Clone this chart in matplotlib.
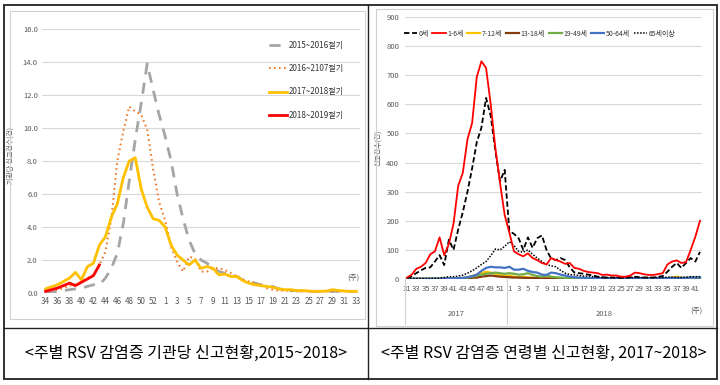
import matplotlib
matplotlib.use("Agg")
import matplotlib.pyplot as plt
from matplotlib import font_manager
from matplotlib.lines import Line2D
from matplotlib.patches import Rectangle

avail = {f.name for f in font_manager.fontManager.ttflist}
NARROW = 'Liberation Sans Narrow' if 'Liberation Sans Narrow' in avail else 'Noto Sans CJK KR'
plt.rcParams['font.family'] = ['Noto Sans CJK KR', 'DejaVu Sans']
NUMF = [NARROW, 'Noto Sans CJK KR', 'DejaVu Sans']

# ---------------- left chart data ----------------
left_weeks = list(range(34, 54)) + list(range(1, 34))
s2015 = [0.05, 0.05, 0.1, 0.15, 0.2, 0.25, 0.3, 0.4, 0.5, 0.5, 0.9, 1.5, 2.4, 4.2, 6.8, 9.3,
         11.5, 13.9, 12.3, 10.8, 9.5, 8.0, 6.0, 4.5, 3.2, 2.4, 2.0, 1.8, 1.5, 1.3, 1.2, 1.1,
         1.0, 0.8, 0.7, 0.6, 0.5, 0.45, 0.4, 0.25, 0.2, 0.15, 0.15, 0.1, 0.1, 0.1, 0.1, 0.1,
         0.1, 0.1, 0.1, 0.1, 0.1]
s2016 = [0.1, 0.15, 0.2, 0.3, 0.45, 0.5, 0.7, 0.9, 1.1, 1.7, 2.5, 4.5, 8.0, 9.8, 11.3, 11.0,
         10.8, 9.9, 7.5, 5.5, 4.4, 2.8, 1.9, 1.3, 2.2, 2.1, 1.3, 1.3, 1.5, 1.5, 1.4, 1.2, 1.0,
         0.8, 0.7, 0.6, 0.5, 0.3, 0.2, 0.15, 0.15, 0.12, 0.1, 0.1, 0.1, 0.1, 0.1, 0.1, 0.1,
         0.1, 0.1, 0.1, 0.1]
s2017 = [0.25, 0.38, 0.5, 0.7, 0.9, 1.25, 0.8, 1.6, 1.8, 2.9, 3.4, 4.6, 5.4, 7.0, 8.0, 8.2,
         6.3, 5.2, 4.5, 4.4, 4.0, 2.9, 2.3, 2.0, 1.7, 2.0, 1.5, 1.6, 1.5, 1.1, 1.15, 1.0, 1.0,
         0.75, 0.6, 0.5, 0.45, 0.4, 0.35, 0.25, 0.2, 0.2, 0.15, 0.15, 0.12, 0.1, 0.1, 0.12,
         0.2, 0.15, 0.12, 0.1, 0.1]
s2018 = [0.1, 0.2, 0.3, 0.45, 0.6, 0.45, 0.65, 0.85, 1.05, 1.7]
left_labels = ['2015~2016절기', '2016~2107절기', '2017~2018절기', '2018~2019절기']
left_yticks = [0.0, 2.0, 4.0, 6.0, 8.0, 10.0, 12.0, 14.0, 16.0]

# ---------------- right chart data ----------------
right_weeks = list(range(31, 53)) + list(range(1, 43))
age0 = [3, 10, 20, 30, 38, 40, 60, 82, 48, 135, 100, 170, 230, 300, 380, 470, 520, 622, 560,
        440, 335, 375, 165, 155, 140, 100, 143, 107, 140, 150, 100, 70, 65, 72, 65, 40, 22,
        20, 18, 15, 12, 8, 6, 5, 5, 4, 4, 4, 6, 8, 6, 5, 5, 5, 8, 10, 25, 42, 55, 38, 55, 72,
        60, 93]
age1_6 = [5, 15, 35, 42, 55, 85, 95, 143, 82, 120, 190, 320, 365, 480, 536, 694, 748, 725,
          600, 450, 330, 220, 160, 95, 85, 78, 88, 72, 65, 55, 50, 72, 65, 60, 52, 55, 38, 35,
          28, 24, 22, 20, 14, 15, 12, 12, 8, 8, 12, 22, 20, 16, 14, 14, 17, 20, 50, 60, 64,
          55, 58, 100, 145, 200]
age7_12 = [1, 1, 1, 1, 1, 1, 1, 1, 1, 1, 1, 1, 3, 6, 10, 15, 20, 25, 22, 18, 15, 10, 12, 8,
           6, 8, 5, 5, 3, 3, 2, 2, 2, 2, 1, 1, 1, 1, 1, 1, 1, 1, 1, 1, 1, 1, 1, 1, 1, 1, 1, 1,
           1, 1, 1, 2, 3, 5, 8, 5, 3, 3, 3, 3]
age13_18 = [0, 0, 0, 0, 0, 0, 0, 0, 0, 0, 0, 0, 1, 2, 4, 5, 8, 10, 12, 10, 8, 7, 6, 5, 5, 4,
            4, 3, 3, 2, 2, 2, 1, 1, 1, 1, 1, 1, 1, 1, 1, 1, 1, 1, 1, 1, 1, 1, 1, 1, 1, 1, 1, 1,
            1, 1, 1, 1, 1, 1, 1, 1, 1, 1]
age19_49 = [1, 1, 1, 1, 1, 1, 1, 1, 1, 1, 1, 2, 3, 5, 8, 12, 15, 18, 20, 22, 20, 18, 20, 18,
            15, 16, 20, 14, 10, 8, 12, 8, 6, 5, 4, 3, 3, 2, 2, 2, 2, 2, 2, 2, 2, 2, 2, 2, 2, 2,
            2, 2, 2, 2, 2, 2, 3, 3, 3, 3, 3, 4, 4, 5]
age50_64 = [1, 1, 1, 1, 1, 1, 1, 1, 2, 2, 2, 3, 4, 6, 10, 15, 28, 38, 42, 40, 40, 38, 42, 32,
            32, 35, 28, 24, 22, 15, 14, 22, 20, 15, 12, 8, 6, 5, 4, 3, 3, 3, 3, 3, 3, 3, 3, 3,
            3, 3, 3, 3, 3, 3, 3, 3, 3, 4, 4, 4, 4, 5, 5, 5]
age65 = [2, 2, 2, 2, 2, 2, 3, 3, 5, 8, 8, 10, 13, 20, 28, 38, 50, 60, 80, 103, 100, 112, 128,
         115, 95, 92, 100, 85, 72, 60, 50, 45, 42, 30, 20, 15, 14, 12, 10, 10, 8, 7, 5, 5, 5,
         5, 5, 5, 5, 5, 5, 5, 5, 5, 5, 5, 6, 6, 5, 5, 6, 8, 8, 8]
right_labels = ['0세', '1-6세', '7-12세', '13-18세', '19-49세', '50-64세', '65세이상']
right_yticks = [0, 100, 200, 300, 400, 500, 600, 700, 800, 900]
year_labels = ['2017', '2018']

W, H = 720, 385
fig = plt.figure(figsize=(7.2, 3.85), dpi=100)

def fx(px):
    return px / W

def fy(py):
    return 1 - py / H

GRID = '#d9d9d9'
TXT = '#595959'

# ---- frames ----
fig.add_artist(Rectangle((fx(10), fy(319)), fx(355), (319 - 11) / H, fill=False,
                         edgecolor='#d0d0d0', lw=0.8, transform=fig.transFigure))
fig.add_artist(Rectangle((fx(376), fy(326)), fx(337), (326 - 9) / H, fill=False,
                         edgecolor='#d0d0d0', lw=0.8, transform=fig.transFigure))
fig.add_artist(Rectangle((fx(4), fy(379)), fx(713), (379 - 5) / H, fill=False,
                         edgecolor='#222222', lw=1.3, transform=fig.transFigure))
fig.add_artist(Line2D([fx(4), fx(717)], [fy(328), fy(328)], color='#222222', lw=1.0,
                      transform=fig.transFigure))
fig.add_artist(Line2D([fx(368), fx(368)], [fy(5), fy(379)], color='#222222', lw=1.0,
                      transform=fig.transFigure))

# ---- left chart ----
axL = fig.add_axes([fx(42), fy(293), fx(318), 264 / H])
xL = list(range(len(left_weeks)))
axL.plot(xL, s2015, color='#a5a5a5', lw=2.0, ls=(0, (4, 3)), label=left_labels[0])
axL.plot(xL, s2016, color='#ed7d31', lw=1.5, ls=(0, (0.8, 1.6)), label=left_labels[1])
axL.plot(xL, s2017, color='#ffc000', lw=2.0, label=left_labels[2])
axL.plot(xL[:len(s2018)], s2018, color='#ff0000', lw=2.0, label=left_labels[3])
axL.set_xlim(-0.6, len(xL) - 0.4)
axL.set_ylim(0, 16)
axL.set_yticks(left_yticks)
axL.set_yticklabels([f'{v:.1f}' for v in left_yticks], fontsize=5.5, color=TXT, family=NUMF)
axL.set_xticks(xL[::2])
axL.set_xticklabels([str(w) for w in left_weeks[::2]], fontsize=5.8, color=TXT, family=NUMF)
axL.tick_params(length=0, pad=3)
axL.grid(axis='y', color=GRID, lw=0.8)
axL.set_axisbelow(True)
for s in axL.spines.values():
    s.set_visible(False)
axL.set_ylabel('기관당 신고건수(건)', fontsize=5, color=TXT, labelpad=4)
axL.yaxis.set_label_coords(-0.085, 0.52)
axL.text(1.0, 0.06, '(주)', transform=axL.transAxes, fontsize=5.5, color=TXT,
         ha='right', va='center')
axL.legend(loc='upper left', bbox_to_anchor=(fx(266), fy(38)), bbox_transform=fig.transFigure,
           frameon=False, fontsize=5.8, labelspacing=1.75, handlelength=2.2, handletextpad=0.2,
           borderaxespad=0, labelcolor='#333333')

# ---- right chart ----
axR = fig.add_axes([fx(404.7), fy(279), fx(297.6), 262 / H])
xR = list(range(len(right_weeks)))
series = [
    (age0, '#000000', (0, (3, 1.5)), 1.3),
    (age1_6, '#ff0000', '-', 1.3),
    (age7_12, '#ffc000', '-', 1.6),
    (age13_18, '#843c0c', '-', 1.6),
    (age19_49, '#70ad47', '-', 1.6),
    (age50_64, '#4472c4', '-', 1.6),
    (age65, '#000000', (0, (1, 1)), 1.1),
]
order = [2, 3, 4, 5, 6, 0, 1]
handles = {}
for i in order:
    vals, col, ls, lw = series[i]
    h, = axR.plot(xR, vals, color=col, ls=ls, lw=lw, label=right_labels[i],
                  zorder=3 if i in (0, 1) else 2)
    handles[i] = h
axR.set_xlim(-0.5, len(xR) - 0.5)
axR.set_ylim(0, 900)
axR.set_yticks(right_yticks)
axR.set_yticklabels([str(v) for v in right_yticks], fontsize=5.5, color=TXT, family=NUMF)
axR.set_xticks(xR[::2])
axR.set_xticklabels([str(w) for w in right_weeks[::2]], fontsize=5.6, color=TXT, family=NUMF)
axR.tick_params(length=0, pad=4)
axR.grid(axis='y', color=GRID, lw=0.8)
axR.set_axisbelow(True)
for s in axR.spines.values():
    s.set_visible(False)
axR.set_ylabel('신고건수(건)', fontsize=5, color=TXT)
axR.yaxis.set_label_coords(-0.075, 0.50)
leg = axR.legend([handles[i] for i in range(7)], right_labels, loc='upper left',
                 bbox_to_anchor=(fx(401), fy(27)), bbox_transform=fig.transFigure,
                 ncol=7, frameon=False, fontsize=5.0, handlelength=1.9, handletextpad=0.2,
                 columnspacing=0.55, borderaxespad=0, labelcolor='#333333')
for t in leg.get_texts():
    t.set_family(NUMF)

# multi-level category separators
first2018 = right_weeks.index(1)
for xv in (-0.5, first2018 - 0.5):
    axR.plot([xv, xv], [0, -0.17], transform=axR.get_xaxis_transform(), clip_on=False,
             color='#d0d0d0', lw=0.8)
axR.text((first2018 - 1) / 2, -0.135, year_labels[0], transform=axR.get_xaxis_transform(),
         ha='center', va='center', fontsize=5.5, color=TXT, family=NUMF)
axR.text((first2018 + len(xR) - 1) / 2, -0.135, year_labels[1],
         transform=axR.get_xaxis_transform(), ha='center', va='center', fontsize=5.5,
         color=TXT, family=NUMF)
axR.text(1.0, -0.12, '(주)', transform=axR.transAxes, fontsize=5.5, color=TXT,
         ha='right', va='center')

# ---- captions ----
fig.text(fx(186), fy(353), '<주별 RSV 감염증 기관당 신고현황,2015~2018>', ha='center',
         va='center', fontsize=11.5, color='#000000')
fig.text(fx(544), fy(353), '<주별 RSV 감염증 연령별 신고현황, 2017~2018>', ha='center',
         va='center', fontsize=11.5, color='#000000')

fig.savefig('out.png', dpi=100)
